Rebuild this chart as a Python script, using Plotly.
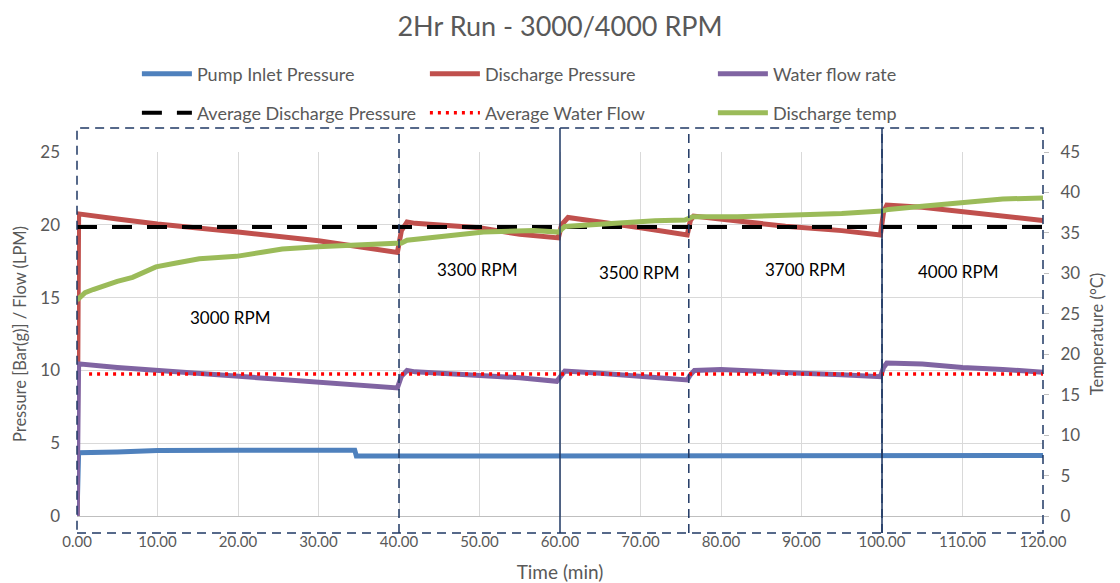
import plotly.graph_objects as go

# ---------------- data ----------------
t_inlet = [0, 0.2, 5, 10, 20, 30, 34.5, 34.7, 50, 70, 90, 110, 120]
inlet = [0, 4.35, 4.4, 4.5, 4.52, 4.52, 4.52, 4.12, 4.12, 4.12, 4.12, 4.13, 4.15]

t_dis = [0, 0.2, 5, 10, 20, 30, 39.8, 40.3, 41, 42, 50, 55, 59.8, 60.2, 61, 65, 70, 75.8,
         76.2, 76.6, 80, 88, 95, 99.8, 100.2, 100.6, 105, 110, 115, 120]
discharge = [0, 20.75, 20.4, 20.05, 19.5, 18.9, 18.1, 19.6, 20.2, 20.1, 19.8, 19.35, 19.1, 20.0,
             20.5, 20.2, 19.8, 19.3, 20.3, 20.6, 20.4, 19.9, 19.6, 19.3, 20.9, 21.35, 21.2,
             20.9, 20.55, 20.3]

t_flow = [0, 0.2, 5, 10, 20, 30, 35, 39.8, 40.3, 41, 42, 50, 55, 59.6, 60.1, 60.6, 65, 70, 75.8,
          76.2, 76.7, 80, 85, 90, 95, 99.8, 100.2, 100.6, 105, 110, 115, 120]
flow = [0, 10.45, 10.2, 10.0, 9.6, 9.2, 8.95, 8.8, 9.6, 10.0, 9.9, 9.7, 9.5, 9.25, 9.6, 9.96,
        9.8, 9.57, 9.34, 9.7, 10.0, 10.07, 9.9, 9.8, 9.7, 9.57, 10.2, 10.5, 10.44, 10.2,
        10.07, 9.87]

t_temp = [0, 0.5, 1, 2, 2.8, 4, 5, 6.9, 8.5, 9.8, 12.5, 15.2, 19.8, 22.5, 25.5, 29.9, 35.9,
          39.6, 40.3, 41, 45, 50.5, 56.7, 59.8, 60.6, 65, 71.8, 75.5, 76.5, 82, 90, 95, 100,
          100.8, 105, 110, 115, 120]
temp = [26.7, 27.2, 27.6, 28.0, 28.3, 28.7, 29.0, 29.5, 30.3, 30.8, 31.3, 31.8, 32.1, 32.5,
        33.0, 33.3, 33.5, 33.6, 33.75, 34.1, 34.5, 35.1, 35.3, 35.1, 35.8, 36.1, 36.5, 36.6,
        37.0, 37.0, 37.2, 37.4, 37.7, 37.9, 38.3, 38.7, 39.2, 39.3]

t_avg = [0, 120]
avg_dis = [19.85, 19.85]
t_avg_flow = [1.5, 120]
avg_flow = [9.75, 9.75]

rpm_labels = ["3000 RPM", "3300 RPM", "3500 RPM", "3700 RPM", "4000 RPM"]
rpm_x = [19, 49.7, 69.8, 90.4, 109.4]
rpm_y = [13.6, 16.9, 16.7, 16.9, 16.8]

dashed_breaks = [40, 76, 100]
solid_breaks = [60, 100]

x_ticks = list(range(0, 121, 10))

# ---------------- figure ----------------
FONT = "Lato"
GRAY = "#595959"
NAVY = "#1f3864"

fig = go.Figure()
lw = 5
fig.add_trace(go.Scatter(x=t_inlet, y=inlet, mode="lines", name="Pump Inlet Pressure",
                         line=dict(color="#4F81BD", width=lw), legend="legend"))
fig.add_trace(go.Scatter(x=t_dis, y=discharge, mode="lines", name="Discharge Pressure",
                         line=dict(color="#C0504D", width=lw), legend="legend"))
fig.add_trace(go.Scatter(x=t_flow, y=flow, mode="lines", name="Water flow rate",
                         line=dict(color="#8064A2", width=lw), legend="legend"))
fig.add_trace(go.Scatter(x=t_avg, y=avg_dis, mode="lines", name="Average Discharge Pressure",
                         line=dict(color="black", width=4, dash="20px,15px"), legend="legend2"))
fig.add_trace(go.Scatter(x=t_avg_flow, y=avg_flow, mode="lines", name="Average Water Flow",
                         line=dict(color="#FF0000", width=3.5, dash="3px,5px"), legend="legend2"))
fig.add_trace(go.Scatter(x=t_temp, y=temp, mode="lines", name="Discharge temp", yaxis="y2",
                         line=dict(color="#9BBB59", width=lw), legend="legend2"))

# RPM labels
for lab, xx, yy in zip(rpm_labels, rpm_x, rpm_y):
    fig.add_annotation(x=xx, y=yy, xref="x", yref="y", text=lab, showarrow=False,
                       font=dict(family=FONT, size=17, color="black"))

# dashed box and vertical separators
Y0, Y1 = -0.047, 1.066
fig.add_shape(type="rect", xref="paper", yref="paper", x0=0, x1=1, y0=Y0, y1=Y1,
              line=dict(color=NAVY, width=1.5, dash="9px,6px"), layer="above")
for xb in dashed_breaks:
    fig.add_shape(type="line", xref="x", yref="paper", x0=xb, x1=xb, y0=Y0, y1=Y1,
                  line=dict(color=NAVY, width=1.5, dash="9px,6px"), layer="above")
for xb in solid_breaks:
    fig.add_shape(type="line", xref="x", yref="paper", x0=xb, x1=xb, y0=Y0, y1=Y1,
                  line=dict(color=NAVY, width=1.5), layer="above")

legend_common = dict(orientation="h", xanchor="left", yanchor="middle",
                     font=dict(family=FONT, size=18, color=GRAY),
                     entrywidth=223, entrywidthmode="pixels", itemwidth=50,
                     bgcolor="rgba(0,0,0,0)")

fig.update_layout(
    width=1120, height=583,
    margin=dict(l=77, r=77, t=152, b=67, autoexpand=False),
    paper_bgcolor="white", plot_bgcolor="white",
    font=dict(family=FONT, color=GRAY),
    title=dict(text="2Hr Run - 3000/4000 RPM", x=0.5, xanchor="center", y=0.955,
               yanchor="middle", font=dict(family=FONT, size=27, color=GRAY)),
    legend=dict(x=0.062, y=(516 - 74) / 364, **legend_common),
    legend2=dict(x=0.062, y=(516 - 113) / 364, **legend_common),
    xaxis=dict(range=[0, 120], tickvals=x_ticks, tickformat=".2f", automargin=False,
               showgrid=True, gridcolor="#D9D9D9", gridwidth=1,
               showline=True, linecolor="#BFBFBF", zeroline=False,
               ticks="", ticklabelstandoff=12,
               tickfont=dict(family=FONT, size=15, color=GRAY),
               title=dict(text="Time (min)", font=dict(family=FONT, size=19, color=GRAY),
                          standoff=17)),
    yaxis=dict(range=[0, 25], dtick=5, showgrid=True, gridcolor="#D9D9D9", gridwidth=1,
               automargin=False,
               zeroline=False, showline=False, ticks="", ticklabelstandoff=16,
               tickfont=dict(family=FONT, size=17, color=GRAY),
               title=dict(text="Pressure [Bar(g)] / Flow (LPM)",
                          font=dict(family=FONT, size=16.5, color=GRAY), standoff=9)),
    yaxis2=dict(range=[0, 45], dtick=5, overlaying="y", side="right", showgrid=False,
                automargin=False,
                zeroline=False, showline=False, ticks="outside", ticklen=5,
                tickcolor="#BFBFBF", ticklabelstandoff=8,
                tickfont=dict(family=FONT, size=17, color=GRAY),
                title=dict(text="Temperature (°C)",
                           font=dict(family=FONT, size=16.5, color=GRAY), standoff=12)),
    showlegend=True,
)

fig.write_html("out.html")
